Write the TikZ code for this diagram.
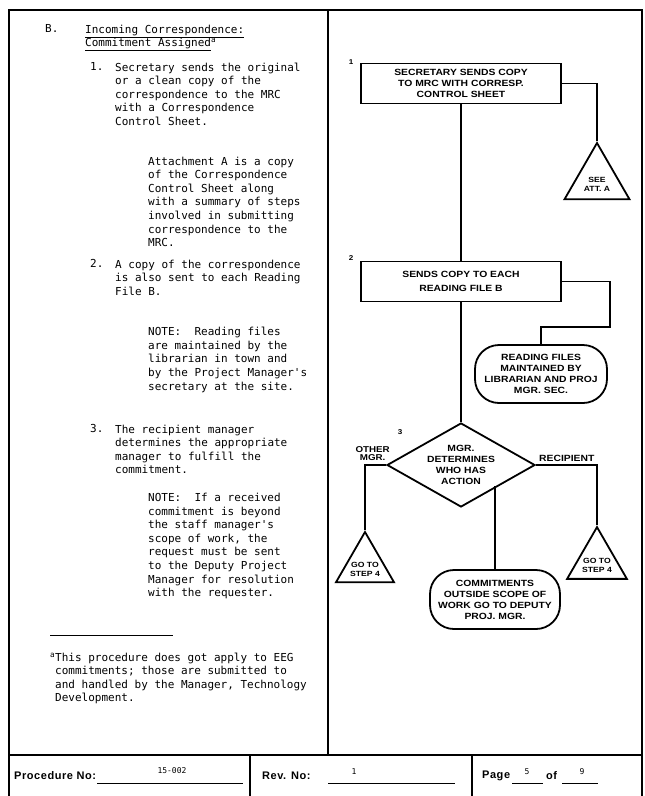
\documentclass[tikz,border=0pt]{standalone}
\usepackage{fontspec}
\setmainfont{Liberation Sans}
\newfontfamily\typefont{DejaVu Sans Mono}
\newfontfamily\flowfont[FakeStretch=1.15]{Liberation Sans}
\newfontfamily\formfont[LetterSpace=5]{Liberation Sans}
\usetikzlibrary{shapes.geometric}

\tikzset{
    frame/.style={line width=1.8pt},
    link/.style={line width=1.8pt},
    para/.style={anchor=north west,inner sep=0pt,align=left,
        font=\typefont\fontsize{11}{13.6}\selectfont\frenchspacing},
    flow/.style={align=center,font=\flowfont\bfseries\fontsize{9}{11}\selectfont},
    stepbox/.style={flow,draw,link,rectangle,minimum width=200pt,minimum height=40pt,inner sep=0pt},
    pill/.style={flow,draw,link,rectangle,rounded corners=24pt,minimum width=132pt,minimum height=58pt,inner sep=0pt},
    decide/.style={flow,draw,link,diamond,aspect=1.76,minimum width=148pt,minimum height=84pt,inner sep=0pt},
    tri/.style={draw,link,regular polygon,regular polygon sides=3,inner sep=0pt},
    tritext/.style={align=center,font=\flowfont\bfseries\fontsize{7.5}{9.5}\selectfont,yshift=-4pt},
    stepno/.style={font=\flowfont\bfseries\fontsize{7}{8}\selectfont,inner sep=0pt},
    form/.style={font=\formfont\bfseries\fontsize{11}{12}\selectfont,anchor=west,inner sep=0pt},
    entry/.style={font=\typefont\fontsize{8}{9}\selectfont,inner sep=0pt},
}

\begin{document}
\begin{tikzpicture}[x=1pt,y=-1pt]
    \fill[white] (0,0) rectangle (645,796);
    \useasboundingbox (0,0) rectangle (645,796);

    % page frame
    \draw[frame] (9,796) -- (9,10) -- (642,10) -- (642,796);
    \draw[frame] (328,10) -- (328,755);
    \draw[frame] (9,755) -- (642,755);
    \draw[frame] (250,755) -- (250,796);
    \draw[frame] (472,755) -- (472,796);

    % left column
    \node[para] (secB) at (45,24.5) {B.};
    \node[para] (head) at (85,24.5) {\underline{Incoming Correspondence:}\\\underline{Commitment Assigned}\textsuperscript{a}};

    \node[para] (n1) at (90,62.5) {1.};
    \node[para] (s1) at (115,62.5) {Secretary sends the original\\or a clean copy of the\\correspondence to the MRC\\with a Correspondence\\Control Sheet.};
    \node[para] (att) at (148,156.5) {Attachment A is a copy\\of the Correspondence\\Control Sheet along\\with a summary of steps\\involved in submitting\\correspondence to the\\MRC.};

    \node[para] (n2) at (90,259.5) {2.};
    \node[para] (s2) at (115,259.5) {A copy of the correspondence\\is also sent to each Reading\\File B.};
    \node[para] (note1) at (148,327) {NOTE:\ \ Reading files\\are maintained by the\\librarian in town and\\by the Project Manager's\\secretary at the site.};

    \node[para] (n3) at (90,424.5) {3.};
    \node[para] (s3) at (115,424.5) {The recipient manager\\determines the appropriate\\manager to fulfill the\\commitment.};
    \node[para] (note2) at (148,493) {NOTE:\ \ If a received\\commitment is beyond\\the staff manager's\\scope of work, the\\request must be sent\\to the Deputy Project\\Manager for resolution\\with the requester.};

    \draw[line width=1pt] (50,635) -- (173,635);
    \node[para] (foot) at (55,652.5) {\llap{\textsuperscript{a}}This procedure does got apply to EEG\\commitments; those are submitted to\\and handled by the Manager, Technology\\Development.};

    % flowchart
    \node[stepbox] (mrc) at (461,83.5) {SECRETARY SENDS COPY\\TO MRC WITH CORRESP.\\CONTROL SHEET};
    \node[stepno] (no1) at (351,62) {1};
    \node[tri,minimum size=75pt,label={[tritext]center:SEE\\ATT. A}] (seeatt) at (597,180.5) {};

    \node[stepbox] (copy) at (461,281.5) {SENDS COPY TO EACH\\[3pt]READING FILE B};
    \node[stepno] (no2) at (351,258) {2};
    \node[pill] (read) at (541,374) {READING FILES\\MAINTAINED BY\\LIBRARIAN AND PROJ\\MGR. SEC.};

    \node[decide] (who) at (461,465) {MGR.\\DETERMINES\\WHO HAS\\ACTION};
    \node[stepno] (no3) at (400,432) {3};
    \node[flow,anchor=south east,inner sep=0pt,font=\flowfont\bfseries\fontsize{8.5}{8.5}\selectfont] (other) at (390,461) {OTHER\\MGR.};
    \node[flow,anchor=south west,inner sep=0pt] (recip) at (539,462) {RECIPIENT};
    \node[tri,minimum size=67pt,label={[tritext]center:GO TO\\STEP 4}] (step4a) at (365,565.5) {};
    \node[tri,minimum size=69pt,label={[tritext]center:GO TO\\STEP 4}] (step4b) at (597,561.6) {};
    \node[pill,minimum width=130pt,minimum height=59pt] (deputy) at (495,599.5) {COMMITMENTS\\OUTSIDE SCOPE OF\\WORK GO TO DEPUTY\\PROJ. MGR.};

    \draw[link] (mrc) -- (copy);
    \draw[link] (mrc.east) -| (seeatt.north);
    \draw[link] (copy) -- (who);
    \draw[link] (copy.east) -| (610,327) -| (read.north);
    \draw[link] (who.west) -| (step4a.north);
    \draw[link] (who.east) -| (step4b.north);
    \draw[link] (deputy.north) -- (deputy.north |- who.south east);

    % form footer
    \node[form] (procno) at (14,776) {Procedure No:};
    \draw[line width=1pt] (97,783) -- (243,783);
    \node[entry] (procval) at (172,771) {15-002};
    \node[form] (revno) at (262,776) {Rev. No:};
    \draw[line width=1pt] (328,783) -- (455,783);
    \node[entry] (revval) at (354,772) {1};
    \node[form] (page) at (482,776) {Page};
    \draw[line width=1pt] (512,783) -- (543,783);
    \node[entry] (pageval) at (527,772) {5};
    \node[form] (of) at (546,776) {of};
    \draw[line width=1pt] (562,783) -- (598,783);
    \node[entry] (ofval) at (582,772) {9};
\end{tikzpicture}
\end{document}
